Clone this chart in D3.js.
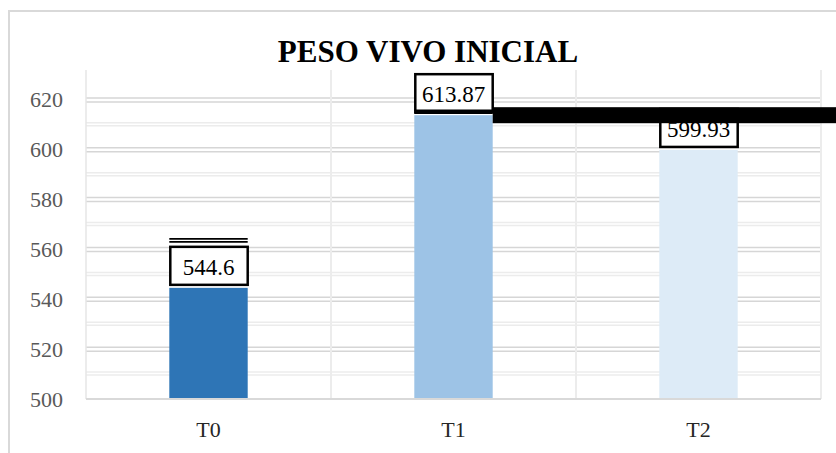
<!DOCTYPE html>
<html>
<head>
<meta charset="utf-8">
<script src="https://cdn.jsdelivr.net/npm/d3@7"></script>
<style>
  html, body { margin: 0; padding: 0; background: #fff; }
  svg { display: block; }
</style>
</head>
<body>
<svg id="chart" width="836" height="453"></svg>
<script>
// ---- data ----
const title = "PESO VIVO INICIAL";
const categories = ["T0", "T1", "T2"];
const values = [544.6, 613.87, 599.93];
const valueLabels = ["544.6", "613.87", "599.93"];
const barColors = ["#2E75B6", "#9DC3E6", "#DDEBF7"];
const yTicks = [500, 520, 540, 560, 580, 600, 620];
const yMinorTicks = [510, 530, 550, 570, 590, 610];

// ---- layout ----
const W = 836, H = 453;
const plot = { left: 86, right: 821, top: 70, bottom: 399 };
const SERIF = '"Liberation Serif", "DejaVu Serif", serif';

const svg = d3.select("#chart");

// outer chart border
svg.append("rect")
  .attr("x", 9).attr("y", 11)
  .attr("width", W + 10).attr("height", H + 10)
  .attr("fill", "#fff")
  .attr("stroke", "#d9d9d9").attr("stroke-width", 2);

const x = d3.scaleBand().domain(categories)
  .range([plot.left, plot.right])
  .paddingInner(0.68).paddingOuter(0.34);
const y = d3.scaleLinear().domain([500, 632]).range([plot.bottom, plot.top]);

const g = svg.append("g");

// minor gridlines (light, doubled)
yMinorTicks.forEach(v => {
  [-2, 1].forEach(off => {
    g.append("line")
      .attr("x1", plot.left).attr("x2", plot.right)
      .attr("y1", y(v) + off).attr("y2", y(v) + off)
      .attr("stroke", "#ececec").attr("stroke-width", 1.5);
  });
});
// major gridlines (doubled)
yTicks.slice(1).forEach(v => {
  [-2, 2].forEach(off => {
    g.append("line")
      .attr("x1", plot.left).attr("x2", plot.right)
      .attr("y1", y(v) + off).attr("y2", y(v) + off)
      .attr("stroke", "#d6d6d6").attr("stroke-width", 1.5);
  });
});

// vertical gridlines at category boundaries
const step = x.step();
const bounds = categories.map(c => x(c) - x.paddingInner() * step / 2 + step);
bounds.forEach(bx => {
  g.append("line")
    .attr("x1", bx).attr("x2", bx)
    .attr("y1", plot.top).attr("y2", plot.bottom)
    .attr("stroke", "#ececec").attr("stroke-width", 2);
});
// left plot edge
g.append("line")
  .attr("x1", plot.left).attr("x2", plot.left)
  .attr("y1", plot.top).attr("y2", plot.bottom)
  .attr("stroke", "#e6e6e6").attr("stroke-width", 1.5);

// y axis labels
const yAxis = d3.axisLeft(y).tickValues(yTicks).tickSize(0).tickPadding(0);
const ya = svg.append("g").attr("transform", `translate(${63},0)`).call(yAxis);
ya.select(".domain").remove();
ya.selectAll("text")
  .style("font-family", SERIF).style("font-size", "22px")
  .attr("fill", "#595959");

// bars
g.selectAll(".bar").data(categories).enter().append("rect")
  .attr("x", d => x(d))
  .attr("y", (d, i) => y(values[i]))
  .attr("width", x.bandwidth())
  .attr("height", (d, i) => y(500) - y(values[i]))
  .attr("fill", (d, i) => barColors[i]);

// x axis line
svg.append("line")
  .attr("x1", plot.left).attr("x2", plot.right)
  .attr("y1", plot.bottom).attr("y2", plot.bottom)
  .attr("stroke", "#d9d9d9").attr("stroke-width", 2);

// x axis labels
const xAxis = d3.axisBottom(x).tickSize(0).tickPadding(0);
const xa = svg.append("g").attr("transform", `translate(0,${plot.bottom + 38})`).call(xAxis);
xa.select(".domain").remove();
xa.selectAll("text")
  .attr("dy", 0)
  .style("font-family", SERIF).style("font-size", "22px")
  .attr("fill", "#262626");

// value label boxes
const boxH = 38;
const labels = svg.append("g");
categories.forEach((c, i) => {
  const bx = x(c), bw = x.bandwidth();
  const bottom = y(values[i]) - 3;
  labels.append("rect")
    .attr("x", bx + 1).attr("y", bottom - boxH)
    .attr("width", bw - 1).attr("height", boxH)
    .attr("fill", "#fff").attr("stroke", "#000").attr("stroke-width", 2.5);
  labels.append("text")
    .attr("x", bx + bw / 2).attr("y", bottom - 10)
    .attr("text-anchor", "middle")
    .style("font-family", SERIF).style("font-size", "23px")
    .attr("fill", "#000")
    .text(valueLabels[i]);
});

// scan artifacts: double rules above T0 box and under T1 box
const t0x = x("T0"), t1x = x("T1");
[-49, -46].forEach(off => {
  labels.append("line")
    .attr("x1", t0x).attr("x2", t0x + x.bandwidth())
    .attr("y1", y(values[0]) + off).attr("y2", y(values[0]) + off)
    .attr("stroke", "#000").attr("stroke-width", 1.8);
});
[-5, -2].forEach(off => {
  labels.append("line")
    .attr("x1", t1x).attr("x2", t1x + x.bandwidth())
    .attr("y1", y(values[1]) + off).attr("y2", y(values[1]) + off)
    .attr("stroke", "#000").attr("stroke-width", 1.5);
});
// black band extending right from the T1 label
labels.append("rect")
  .attr("x", t1x + x.bandwidth()).attr("y", y(values[1]) - 8)
  .attr("width", W - (t1x + x.bandwidth()) + 5).attr("height", 16)
  .attr("fill", "#000");

// title
svg.append("text")
  .attr("x", 428).attr("y", 62)
  .attr("text-anchor", "middle")
  .style("font-family", SERIF).style("font-size", "31px").style("font-weight", "bold")
  .attr("fill", "#000")
  .text(title);
</script>
</body>
</html>
